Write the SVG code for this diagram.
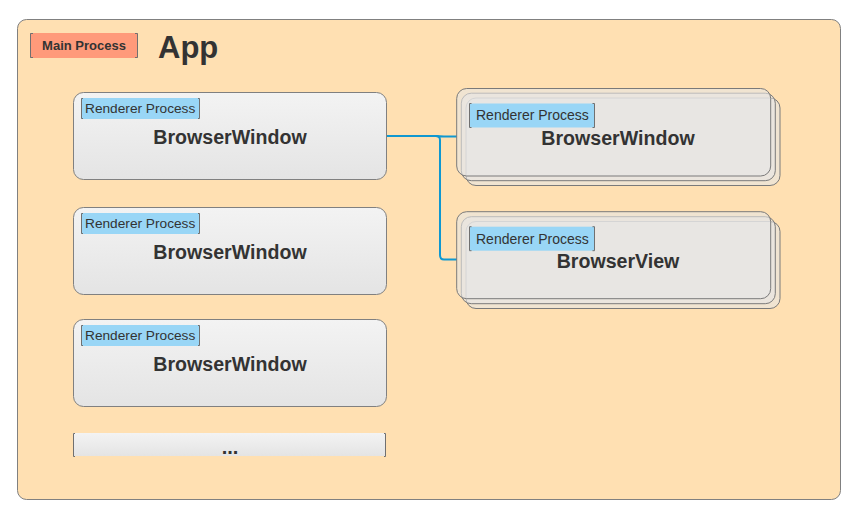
<svg xmlns="http://www.w3.org/2000/svg" width="857" height="525" viewBox="0 0 857 525">
<defs>
<linearGradient id="g" x1="0" y1="0" x2="0" y2="1">
<stop offset="0" stop-color="#f3f3f3"/>
<stop offset="1" stop-color="#e4e4e4"/>
</linearGradient>
<style>
text{font-family:"Liberation Sans",Arial,sans-serif;fill:#333}
.box{fill:url(#g);stroke:#808080;stroke-width:1}
.stk{fill:#e6e6e6;fill-opacity:0.6;stroke:#7a7a7a;stroke-width:1}
.rp{fill:#99d6f6}
.br{fill:none;stroke:#707070;stroke-width:1}
.rpt{font-size:13.7px}
.ttl{font-size:19.6px;font-weight:bold;text-anchor:middle}
.con{fill:none;stroke:#1098d0;stroke-width:2}
</style>
</defs>
<rect x="17.5" y="19.5" width="823" height="480" rx="9" fill="#ffe0b2" stroke="#808080"/>
<g id="main-label">
<rect x="30" y="33" width="108" height="25" fill="#ff9a7a"/>
<path class="br" d="M33,33.5H30.5V57.5H33M135,33.5H137.5V57.5H135"/>
<text x="84" y="50" font-size="13" font-weight="bold" text-anchor="middle">Main Process</text>
</g>
<text id="app" x="158" y="58" font-size="31" font-weight="bold">App</text>
<g id="connectors">
<path class="con" d="M386,136H436Q440,136 440,140V255Q440,259.5 444,259.5H457"/>
<path class="con" d="M436,136Q440,136.5 444,136.5H457"/>
</g>
<g id="bw1">
<rect class="box" x="73.5" y="92.5" width="313" height="87" rx="10"/>
<rect class="rp" x="81" y="98" width="119" height="21"/>
<path class="br" d="M83,98.5H81.5V118.5H83M198,98.5H199.5V118.5H198"/>
<text class="rpt" x="85" y="113">Renderer Process</text>
<text class="ttl" x="230" y="144">BrowserWindow</text>
</g>
<g id="bw2">
<rect class="box" x="73.5" y="207.5" width="313" height="87" rx="10"/>
<rect class="rp" x="81" y="213" width="119" height="21"/>
<path class="br" d="M83,213.5H81.5V233.5H83M198,213.5H199.5V233.5H198"/>
<text class="rpt" x="85" y="228">Renderer Process</text>
<text class="ttl" x="230" y="259">BrowserWindow</text>
</g>
<g id="bw3">
<rect class="box" x="73.5" y="319.5" width="313" height="87" rx="10"/>
<rect class="rp" x="81" y="325" width="119" height="21"/>
<path class="br" d="M83,325.5H81.5V345.5H83M198,325.5H199.5V345.5H198"/>
<text class="rpt" x="85" y="340">Renderer Process</text>
<text class="ttl" x="230" y="371">BrowserWindow</text>
</g>
<g id="more">
<rect x="73" y="433" width="313" height="23" fill="url(#g)"/>
<path class="br" d="M75,433.5H73.5V456.5H75M384,433.5H385.5V456.5H384"/>
<text x="230" y="454" font-size="20" font-weight="bold" text-anchor="middle">...</text>
</g>
<g id="bw-stack">
<rect class="stk" x="466" y="98" width="314" height="87.5" rx="10"/>
<rect class="stk" x="461.3" y="93.2" width="314" height="87.5" rx="10"/>
<rect class="stk" x="456.7" y="88.5" width="314" height="87.5" rx="10"/>
<rect class="rp" x="469.5" y="103.5" width="125" height="24"/>
<path class="br" d="M471.5,103.5H469.5V127.5H471.5M592.5,103.5H594.5V127.5H592.5"/>
<text x="476" y="120" font-size="14">Renderer Process</text>
<text class="ttl" x="618" y="145">BrowserWindow</text>
</g>
<g id="bv-stack">
<rect class="stk" x="466" y="221.5" width="314" height="87" rx="10"/>
<rect class="stk" x="461.3" y="216.7" width="314" height="87" rx="10"/>
<rect class="stk" x="456.7" y="211.7" width="314" height="87" rx="10"/>
<rect class="rp" x="469.5" y="226.7" width="125" height="24"/>
<path class="br" d="M471.5,226.7H469.5V250.7H471.5M592.5,226.7H594.5V250.7H592.5"/>
<text x="476" y="243.5" font-size="14">Renderer Process</text>
<text class="ttl" x="618" y="268">BrowserView</text>
</g>
</svg>
